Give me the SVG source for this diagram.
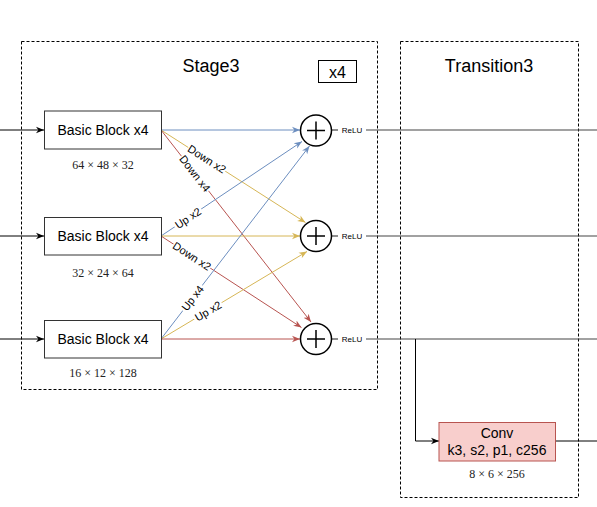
<svg xmlns="http://www.w3.org/2000/svg" width="597" height="507" viewBox="0 0 597 507">
<style>
.box{fill:#fff;stroke:#333;stroke-width:1}
.dash{fill:none;stroke:#000;stroke-width:1;stroke-dasharray:3 2}
.t{font-family:"Liberation Sans",Arial,sans-serif;fill:#000}
.dim{font-family:"Liberation Serif","DejaVu Serif",serif;font-size:12px;fill:#222;text-anchor:middle}
.lbl{font-family:"Liberation Sans",Arial,sans-serif;font-size:11px;fill:#000;text-anchor:middle;dominant-baseline:central}
.bl{stroke:#6c8ebf;fill:none}
.ye{stroke:#d6b656;fill:none}
.re{stroke:#b85450;fill:none}
.k{stroke:#000;fill:none}
.g{stroke:#444;fill:none;stroke-width:1.2}
</style>
<defs>
<marker id="ak" viewBox="0 0 10 10" refX="10" refY="5" markerWidth="8" markerHeight="8" orient="auto" markerUnits="userSpaceOnUse"><path d="M0,1 L10,5 L0,9 L3,5 Z" fill="#000"/></marker>
<marker id="ab" viewBox="0 0 10 10" refX="10" refY="5" markerWidth="8" markerHeight="8" orient="auto" markerUnits="userSpaceOnUse"><path d="M0,1 L10,5 L0,9 L3,5 Z" fill="#6c8ebf"/></marker>
<marker id="ay" viewBox="0 0 10 10" refX="10" refY="5" markerWidth="8" markerHeight="8" orient="auto" markerUnits="userSpaceOnUse"><path d="M0,1 L10,5 L0,9 L3,5 Z" fill="#d6b656"/></marker>
<marker id="ar" viewBox="0 0 10 10" refX="10" refY="5" markerWidth="8" markerHeight="8" orient="auto" markerUnits="userSpaceOnUse"><path d="M0,1 L10,5 L0,9 L3,5 Z" fill="#b85450"/></marker>
</defs>
<rect width="597" height="507" fill="#fff"/>

<g id="stage3">
<rect class="dash" x="21.5" y="41.5" width="356" height="348"/>
<text class="t" x="211" y="72" font-size="18" text-anchor="middle">Stage3</text>
<rect x="318.5" y="60.5" width="38" height="22" fill="#fff" stroke="#000"/>
<text class="t" x="337.5" y="78" font-size="16" text-anchor="middle">x4</text>
</g>
<g id="transition3">
<rect class="dash" x="400.5" y="41.5" width="178" height="456"/>
<text class="t" x="489" y="72" font-size="18" text-anchor="middle">Transition3</text>
</g>

<g id="connectors">
<line class="k" x1="0" y1="130" x2="44" y2="130" marker-end="url(#ak)"/>
<line class="k" x1="0" y1="236" x2="44" y2="236" marker-end="url(#ak)"/>
<line class="k" x1="0" y1="339" x2="44" y2="339" marker-end="url(#ak)"/>

<line class="bl" x1="161" y1="130" x2="300" y2="130" marker-end="url(#ab)"/>
<line class="ye" x1="161" y1="130" x2="305.5" y2="222.5" marker-end="url(#ay)"/>
<line class="re" x1="161" y1="130" x2="311" y2="322" marker-end="url(#ar)"/>

<line class="bl" x1="161" y1="236" x2="302" y2="141.5" marker-end="url(#ab)"/>
<line class="ye" x1="161" y1="236" x2="300" y2="236" marker-end="url(#ay)"/>
<line class="re" x1="161" y1="236" x2="301.5" y2="327.5" marker-end="url(#ar)"/>

<line class="bl" x1="161" y1="339" x2="309.5" y2="146" marker-end="url(#ab)"/>
<line class="ye" x1="161" y1="339" x2="307" y2="251.5" marker-end="url(#ay)"/>
<line class="re" x1="161" y1="339" x2="300" y2="339" marker-end="url(#ar)"/>

<g transform="translate(207,159) rotate(32.6)"><rect x="-22" y="-6" width="44" height="12" fill="#fff"/><text class="lbl">Down x2</text></g>
<g transform="translate(195,173.5) rotate(52)"><rect x="-22" y="-6" width="44" height="12" fill="#fff"/><text class="lbl">Down x4</text></g>
<g transform="translate(188,218) rotate(-33.7)"><rect x="-16" y="-6" width="32" height="12" fill="#fff"/><text class="lbl">Up x2</text></g>
<g transform="translate(192,256) rotate(32.8)"><rect x="-22" y="-6" width="44" height="12" fill="#fff"/><text class="lbl">Down x2</text></g>
<g transform="translate(192.5,298) rotate(-52.5)"><rect x="-16" y="-6" width="32" height="12" fill="#fff"/><text class="lbl">Up x4</text></g>
<g transform="translate(208,311) rotate(-30.8)"><rect x="-16" y="-6" width="32" height="12" fill="#fff"/><text class="lbl">Up x2</text></g>

<line class="g" x1="331.5" y1="130" x2="338" y2="130"/>
<line class="g" x1="331.5" y1="236" x2="338" y2="236"/>
<line class="g" x1="331.5" y1="339" x2="338" y2="339"/>
<line class="g" x1="366" y1="130" x2="597" y2="130"/>
<line class="g" x1="366" y1="236" x2="597" y2="236"/>
<line class="g" x1="366" y1="339" x2="597" y2="339"/>
<polyline class="k" points="415.5,339 415.5,441 439,441" marker-end="url(#ak)"/>
<line class="k" x1="556" y1="441" x2="597" y2="441"/>
</g>

<g id="block1">
<rect class="box" x="44.5" y="111" width="117" height="38"/>
<text class="t" x="103" y="135" font-size="14" text-anchor="middle">Basic Block x4</text>
<text class="dim" x="103" y="169">64 × 48 × 32</text>
</g>
<g id="block2">
<rect class="box" x="44.5" y="217.5" width="117" height="37.5"/>
<text class="t" x="103" y="241" font-size="14" text-anchor="middle">Basic Block x4</text>
<text class="dim" x="103" y="277">32 × 24 × 64</text>
</g>
<g id="block3">
<rect class="box" x="44.5" y="320.5" width="117" height="37.5"/>
<text class="t" x="103" y="344" font-size="14" text-anchor="middle">Basic Block x4</text>
<text class="dim" x="103" y="377">16 × 12 × 128</text>
</g>

<g id="add1">
<circle cx="316" cy="130.5" r="15.5" fill="#fff" stroke="#000" stroke-width="1.5"/>
<path d="M307,130.5 H325 M316,121.5 V139.5" stroke="#000" stroke-width="1.5"/>
<text class="t" x="352" y="133" font-size="8" text-anchor="middle" fill="#333">ReLU</text>
</g>
<g id="add2">
<circle cx="316" cy="236" r="15.5" fill="#fff" stroke="#000" stroke-width="1.5"/>
<path d="M307,236 H325 M316,227 V245" stroke="#000" stroke-width="1.5"/>
<text class="t" x="352" y="239" font-size="8" text-anchor="middle" fill="#333">ReLU</text>
</g>
<g id="add3">
<circle cx="316" cy="339" r="15.5" fill="#fff" stroke="#000" stroke-width="1.5"/>
<path d="M307,339 H325 M316,330 V348" stroke="#000" stroke-width="1.5"/>
<text class="t" x="352" y="342" font-size="8" text-anchor="middle" fill="#333">ReLU</text>
</g>

<g id="conv">
<rect x="439" y="422.5" width="116.5" height="38.5" fill="#f8cecc" stroke="#b85450"/>
<text class="t" x="497" y="438" font-size="14" text-anchor="middle">Conv</text>
<text class="t" x="497" y="455" font-size="14" text-anchor="middle">k3, s2, p1, c256</text>
<text class="dim" x="497" y="478">8 × 6 × 256</text>
</g>
</svg>
